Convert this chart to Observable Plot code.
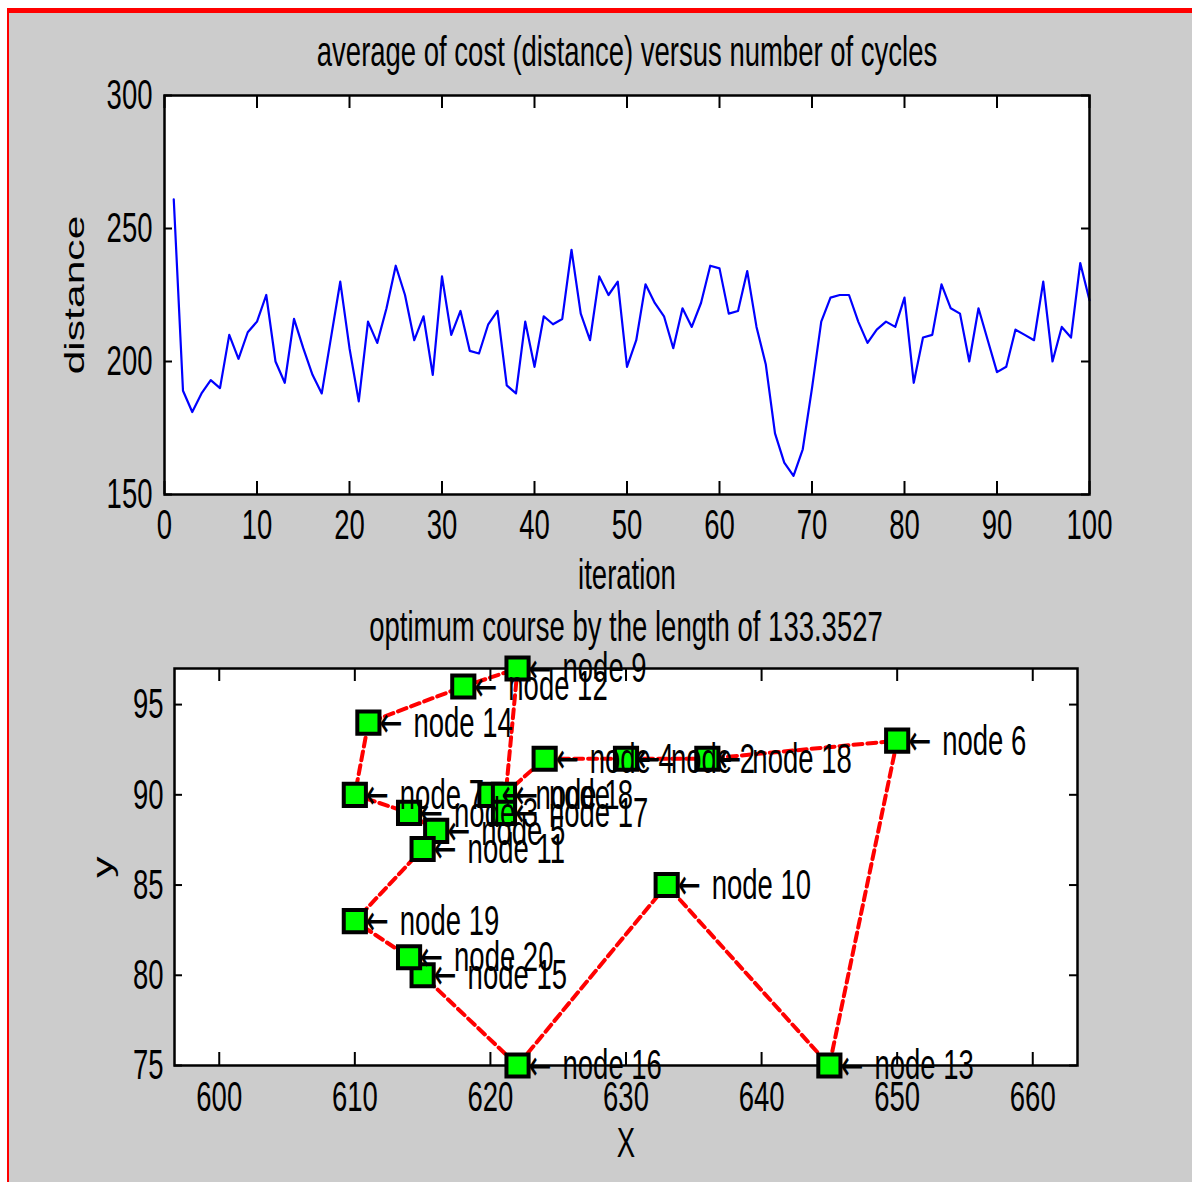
<!DOCTYPE html>
<html>
<head>
<meta charset="utf-8">
<script src="https://cdn.jsdelivr.net/npm/d3@7"></script>
<script src="https://cdn.jsdelivr.net/npm/@observablehq/plot@0.6"></script>
<style>
html, body { margin: 0; padding: 0; background: #ffffff; }
#page { position: relative; width: 1192px; height: 1182px; overflow: hidden; background: #ffffff; }
#fig { position: absolute; left: 7px; top: 8px; width: 1185px; height: 1174px; background: #cccccc;
       border-top: 5px solid #ff0000; border-left: 2px solid #ff0000; box-sizing: border-box; }
#top, #bottom { position: absolute; left: 0; }
#top { top: 0; }
#bottom { top: 600px; }
</style>
</head>
<body>
<div id="page">
  <div id="fig"></div>
  <div id="top"></div>
  <div id="bottom"></div>
</div>
<script>
// ---------- data: top panel ----------
const topTitle = "average of cost (distance) versus number of cycles";
const topXLabel = "iteration";
const topYLabel = "distance";
const iterations = [
  1,2,3,4,5,6,7,8,9,10,11,12,13,14,15,16,17,18,19,20,
  21,22,23,24,25,26,27,28,29,30,31,32,33,34,35,36,37,38,39,40,
  41,42,43,44,45,46,47,48,49,50,51,52,53,54,55,56,57,58,59,60,
  61,62,63,64,65,66,67,68,69,70,71,72,73,74,75,76,77,78,79,80,
  81,82,83,84,85,86,87,88,89,90,91,92,93,94,95,96,97,98,99,100
];
const distances = [
  261,189,181,188,193,190,210,201,211,215,225,200,192,216,205,195,188,209,230,205,
  185,215,207,220,236,225,208,217,195,232,210,219,204,203,214,219,191,188,215,198,
  217,214,216,242,218,208,232,225,230,198,208,229,222,217,205,220,213,222,236,235,
  218,219,234,213,199,173,162,157,167,190,215,224,225,225,215,207,212,215,213,224,
  192,209,210,229,220,218,200,220,208,196,198,212,210,208,230,200,213,209,237,223
];
const topXTicks = [0,10,20,30,40,50,60,70,80,90,100];
const topYTicks = [150,200,250,300];

// ---------- data: bottom panel ----------
const botTitle = "optimum course by the length of 133.3527";
const botXLabel = "X";
const botYLabel = "y";
const nodeIds = [1,2,3,4,5,6,7,8,9,10,11,12,13,14,15,16,17,18,19,20];
const nodeX   = [620,630,614,624,616,650,610,621,622,633,615,618,645,611,615,622,621,636,610,614];
const nodeY   = [90,92,89,92,88,93,90,90,97,85,87,96,75,94,80,75,89,92,83,81];
const tourOrder = [6,13,10,16,15,20,19,11,5,3,7,14,12,9,17,1,8,4,2,18,6];
const botXTicks = [600,610,620,630,640,650,660];
const botYTicks = [75,80,85,90,95];

// ---------- derived tables ----------
const series = iterations.map((it, i) => ({iteration: it, distance: distances[i]}));
const nodes = nodeIds.map((id, i) => ({id, x: nodeX[i], y: nodeY[i]}));
const tour = tourOrder.map(id => nodes[nodeIds.indexOf(id)]);

const FONT = '"Liberation Sans Narrow", "Arial Narrow", "Liberation Sans", Arial, sans-serif';
const FS = 27.5;
const STRETCH = 1.55;
const style = {background: "none", fontFamily: FONT, fontSize: FS + "px", color: "black", overflow: "visible"};

// stretch each text vertically on the page (the reference glyphs are tall and narrow)
function stretchText(svg) {
  const NS = "http://www.w3.org/2000/svg";
  Array.from(svg.querySelectorAll("text")).forEach(t => {
    const parentRot = t.parentNode && t.parentNode.closest && t.parentNode.closest('[transform*="rotate"]');
    const g = document.createElementNS(NS, "g");
    t.parentNode.insertBefore(g, t);
    g.appendChild(t);
    g.style.transformBox = "fill-box";
    g.style.transformOrigin = "center";
    g.style.transform = parentRot ? `scaleX(${STRETCH})` : `scaleY(${STRETCH})`;
  });
  return svg;
}

const lbl = (extra) => Object.assign({text: d => d, fontSize: FS, lineAnchor: "middle", textAnchor: "middle"}, extra);

// ---------- top panel ----------
{
  const W = 1192, H = 600, mL = 164, mR = 103, mT = 95, mB = 106;
  const fw = W - mL - mR, fh = H - mT - mB;
  const tx = 13, ty = 8;
  const svg = Plot.plot({
    width: W, height: H,
    marginLeft: mL, marginRight: mR, marginTop: mT, marginBottom: mB,
    x: {domain: [0, 100]},
    y: {domain: [150, 300]},
    style,
    marks: [
      Plot.frame({fill: "white", stroke: "none"}),
      Plot.line(series, {x: "iteration", y: "distance", stroke: "#0000ff", strokeWidth: 2.2}),
      Plot.tickX(topXTicks, {x: d => d, insetTop: fh - tx, stroke: "black", strokeWidth: 2}),
      Plot.tickX(topXTicks, {x: d => d, insetBottom: fh - tx, stroke: "black", strokeWidth: 2}),
      Plot.tickY(topYTicks, {y: d => d, insetRight: fw - ty, stroke: "black", strokeWidth: 2}),
      Plot.tickY(topYTicks, {y: d => d, insetLeft: fw - ty, stroke: "black", strokeWidth: 2}),
      Plot.frame({stroke: "black", strokeWidth: 2.5}),
      Plot.axisX(topXTicks, {tickSize: 0, tickPadding: 31, lineAnchor: "middle", label: null, fontSize: FS}),
      Plot.axisY(topYTicks, {tickSize: 0, tickPadding: 12, label: null, fontSize: FS}),
      Plot.text([topTitle], lbl({frameAnchor: "top", dy: -43})),
      Plot.text([topXLabel], lbl({frameAnchor: "bottom", dy: 81})),
      Plot.text([topYLabel], lbl({frameAnchor: "left", dx: -89, rotate: -90}))
    ]
  });
  document.getElementById("top").appendChild(stretchText(svg));
}

// ---------- bottom panel ----------
{
  const W = 1192, H = 582, mL = 174, mR = 115, mT = 68, mB = 117;
  const fw = W - mL - mR, fh = H - mT - mB;
  const tx = 13, ty = 8;
  const svg = Plot.plot({
    width: W, height: H,
    marginLeft: mL, marginRight: mR, marginTop: mT, marginBottom: mB,
    x: {domain: [596.7, 663.3]},
    y: {domain: [75, 97]},
    style,
    marks: [
      Plot.frame({fill: "white", stroke: "none"}),
      Plot.line(tour, {x: "x", y: "y", stroke: "#ff0000", strokeWidth: 4, strokeDasharray: "9,5"}),
      Plot.tickX(botXTicks, {x: d => d, insetTop: fh - tx, stroke: "black", strokeWidth: 2}),
      Plot.tickX(botXTicks, {x: d => d, insetBottom: fh - tx, stroke: "black", strokeWidth: 2}),
      Plot.tickY(botYTicks, {y: d => d, insetRight: fw - ty, stroke: "black", strokeWidth: 2}),
      Plot.tickY(botYTicks, {y: d => d, insetLeft: fw - ty, stroke: "black", strokeWidth: 2}),
      Plot.frame({stroke: "black", strokeWidth: 2.5}),
      Plot.dot(nodes, {x: "x", y: "y", symbol: "square", r: 12.5, fill: "#00ff00", stroke: "black", strokeWidth: 4}),
      Plot.text(nodes, {x: "x", y: "y", text: () => "\u2190", textAnchor: "start", dx: 11, fontSize: FS, fontFamily: "DejaVu Sans", fill: "black"}),
      Plot.text(nodes, {x: "x", y: "y", text: d => "node " + d.id, textAnchor: "start", dx: 45, fontSize: FS, fill: "black"}),
      Plot.axisX(botXTicks, {tickSize: 0, tickPadding: 32, lineAnchor: "middle", label: null, fontSize: FS}),
      Plot.axisY(botYTicks, {tickSize: 0, tickPadding: 11, label: null, fontSize: FS}),
      Plot.text([botTitle], lbl({frameAnchor: "top", dy: -41})),
      Plot.text([botXLabel], lbl({frameAnchor: "bottom", dy: 78})),
      Plot.text([botYLabel], lbl({frameAnchor: "left", dx: -71, rotate: -90}))
    ]
  });
  document.getElementById("bottom").appendChild(stretchText(svg));
}
</script>
</body>
</html>
